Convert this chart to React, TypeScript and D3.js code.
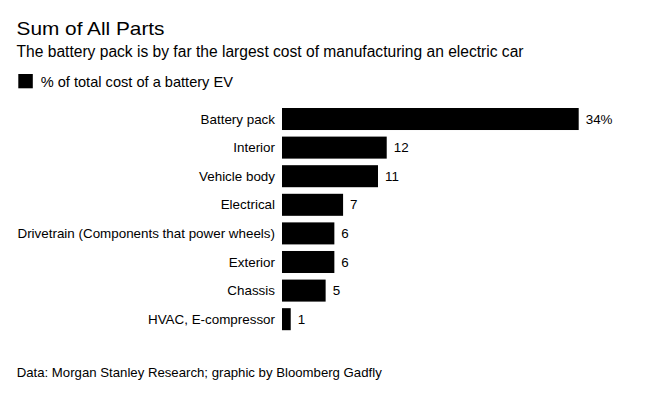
import React from "react";
import * as d3 from "d3";

const categories = [
  "Battery pack",
  "Interior",
  "Vehicle body",
  "Electrical",
  "Drivetrain (Components that power wheels)",
  "Exterior",
  "Chassis",
  "HVAC, E-compressor",
];
const values = [34, 12, 11, 7, 6, 6, 5, 1];
const valueLabels = ["34%", "12", "11", "7", "6", "6", "5", "1"];

const title = "Sum of All Parts";
const subtitle = "The battery pack is by far the largest cost of manufacturing an electric car";
const legendLabel = "% of total cost of a battery EV";
const source = "Data: Morgan Stanley Research; graphic by Bloomberg Gadfly";

const W = 660;
const H = 393;
const font = "'Liberation Sans', Arial, Helvetica, sans-serif";

export default function App() {
  const x = d3.scaleLinear().domain([0, 34]).range([282, 578.7]);
  const y = d3.scaleBand<string>().domain(categories).range([108, 330.2]).paddingInner(0.23).paddingOuter(0);

  return (
    <svg width={W} height={H} style={{ position: "absolute", left: 0, top: 0, background: "#fff" }} fontFamily={font}>
      <text x={16.5} y={35} fontSize={18.5} textLength={148} lengthAdjust="spacingAndGlyphs" fill="#000">{title}</text>
      <text x={16.5} y={57} fontSize={15.6} fill="#000">{subtitle}</text>
      <rect x={18.3} y={74} width={14.5} height={14.3} fill="#000" />
      <text x={40.7} y={86.7} fontSize={14.6} fill="#000">{legendLabel}</text>
      {categories.map((c, i) => {
        const yy = y(c)!;
        const bh = y.bandwidth();
        return (
          <g key={c}>
            <rect x={x(0)} y={yy} width={x(values[i]) - x(0)} height={bh} fill="#000" />
            <text x={275} y={yy + bh / 2} dy="0.35em" textAnchor="end" fontSize={13.4} fill="#000">{c}</text>
            <text x={x(values[i]) + 7} y={yy + bh / 2} dy="0.35em" fontSize={13.4} fill="#000">{valueLabels[i]}</text>
          </g>
        );
      })}
      <text x={16.7} y={377.3} fontSize={13.2} fill="#000">{source}</text>
    </svg>
  );
}
